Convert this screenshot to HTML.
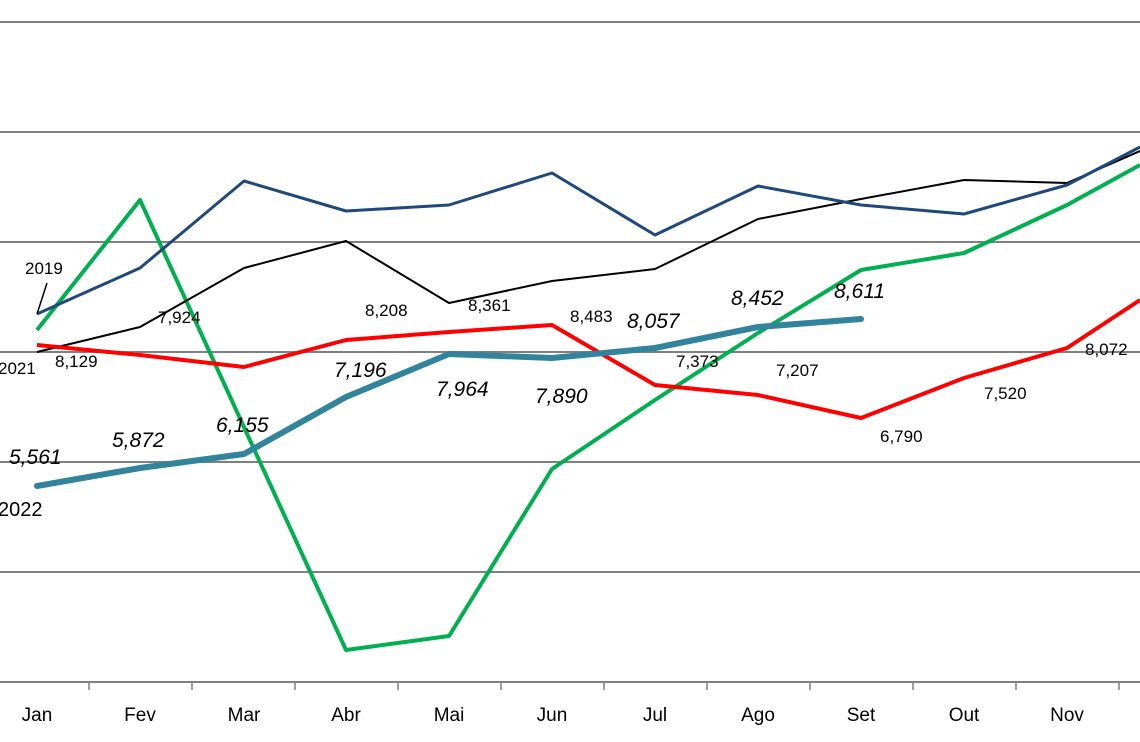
<!DOCTYPE html>
<html><head><meta charset="utf-8"><style>
body{margin:0;background:#fff}
svg{display:block}
text{font-family:"Liberation Sans",sans-serif;font-size:17px;fill:#000}
.b{font-size:21px;font-style:italic}
.m{font-size:20px}
</style></head><body>
<svg width="1140" height="742" viewBox="0 0 1140 742">
<g stroke="#808080" stroke-width="2">
<line x1="0" y1="22" x2="1140" y2="22"/><line x1="0" y1="132" x2="1140" y2="132"/>
<line x1="0" y1="242" x2="1140" y2="242"/><line x1="0" y1="352" x2="1140" y2="352"/>
<line x1="0" y1="462" x2="1140" y2="462"/><line x1="0" y1="572" x2="1140" y2="572"/>
<line x1="0" y1="682" x2="1140" y2="682"/>
</g>
<g stroke="#808080" stroke-width="1.5">
<line x1="89" y1="682" x2="89" y2="690"/><line x1="192" y1="682" x2="192" y2="690"/>
<line x1="295" y1="682" x2="295" y2="690"/><line x1="398" y1="682" x2="398" y2="690"/>
<line x1="501" y1="682" x2="501" y2="690"/><line x1="604" y1="682" x2="604" y2="690"/>
<line x1="707" y1="682" x2="707" y2="690"/><line x1="810" y1="682" x2="810" y2="690"/>
<line x1="913" y1="682" x2="913" y2="690"/><line x1="1016" y1="682" x2="1016" y2="690"/>
<line x1="1119" y1="682" x2="1119" y2="690"/>
</g>
<g fill="none" stroke-linejoin="round">
<polyline stroke="#00b050" stroke-width="4" points="37,330 140,200 346,650 449,636 552,469 655,400 758,333 861,270 964,253 1067,205 1140,165"/>
<polyline stroke="#000" stroke-width="2" points="37,352 140,327 244,268 346,241 449,303 552,281 655,269 758,219 861,199 964,180 1067,183 1140,151"/>
<polyline stroke="#1f497d" stroke-width="3" points="37,314 140,268 244,181 346,211 449,205 552,173 655,235 758,186 861,205 964,214 1067,185 1140,147"/>
<polyline stroke="#ff0000" stroke-width="4" points="37,345 140,355 244,367 346,340 449,332 552,325 655,385 758,395 861,418 964,378 1067,348 1140,300"/>
<polyline stroke="#31849b" stroke-width="6" stroke-linecap="round" points="37,486 140,468 244,454 346,397 449,354 552,358 655,348 758,327 861,319"/>
<line x1="37" y1="314" x2="47" y2="283" stroke="#000" stroke-width="1.5"/>
</g>
<text x="25" y="274">2019</text>
<text x="-2" y="374">2021</text>
<text x="55" y="367">8,129</text>
<text x="158" y="323">7,924</text>
<text x="365" y="316">8,208</text>
<text x="468" y="311">8,361</text>
<text x="570" y="322">8,483</text>
<text x="676" y="367">7,373</text>
<text x="776" y="376">7,207</text>
<text x="880" y="442">6,790</text>
<text x="984" y="399">7,520</text>
<text x="1085" y="355">8,072</text>
<text class="m" x="-2" y="516">2022</text>
<text class="b" x="9" y="464">5,561</text>
<text class="b" x="112" y="447">5,872</text>
<text class="b" x="216" y="432">6,155</text>
<text class="b" x="334" y="377">7,196</text>
<text class="b" x="436" y="396">7,964</text>
<text class="b" x="535" y="403">7,890</text>
<text class="b" x="627" y="328">8,057</text>
<text class="b" x="731" y="305">8,452</text>
<text class="b" x="834" y="298">8,611</text>
<g text-anchor="middle" font-size="19">
<text x="37" y="721" style="font-size:19px">Jan</text><text x="140" y="721" style="font-size:19px">Fev</text>
<text x="244" y="721" style="font-size:19px">Mar</text><text x="346" y="721" style="font-size:19px">Abr</text>
<text x="449" y="721" style="font-size:19px">Mai</text><text x="552" y="721" style="font-size:19px">Jun</text>
<text x="655" y="721" style="font-size:19px">Jul</text><text x="758" y="721" style="font-size:19px">Ago</text>
<text x="861" y="721" style="font-size:19px">Set</text><text x="964" y="721" style="font-size:19px">Out</text>
<text x="1067" y="721" style="font-size:19px">Nov</text>
</g>
</svg>
</body></html>
